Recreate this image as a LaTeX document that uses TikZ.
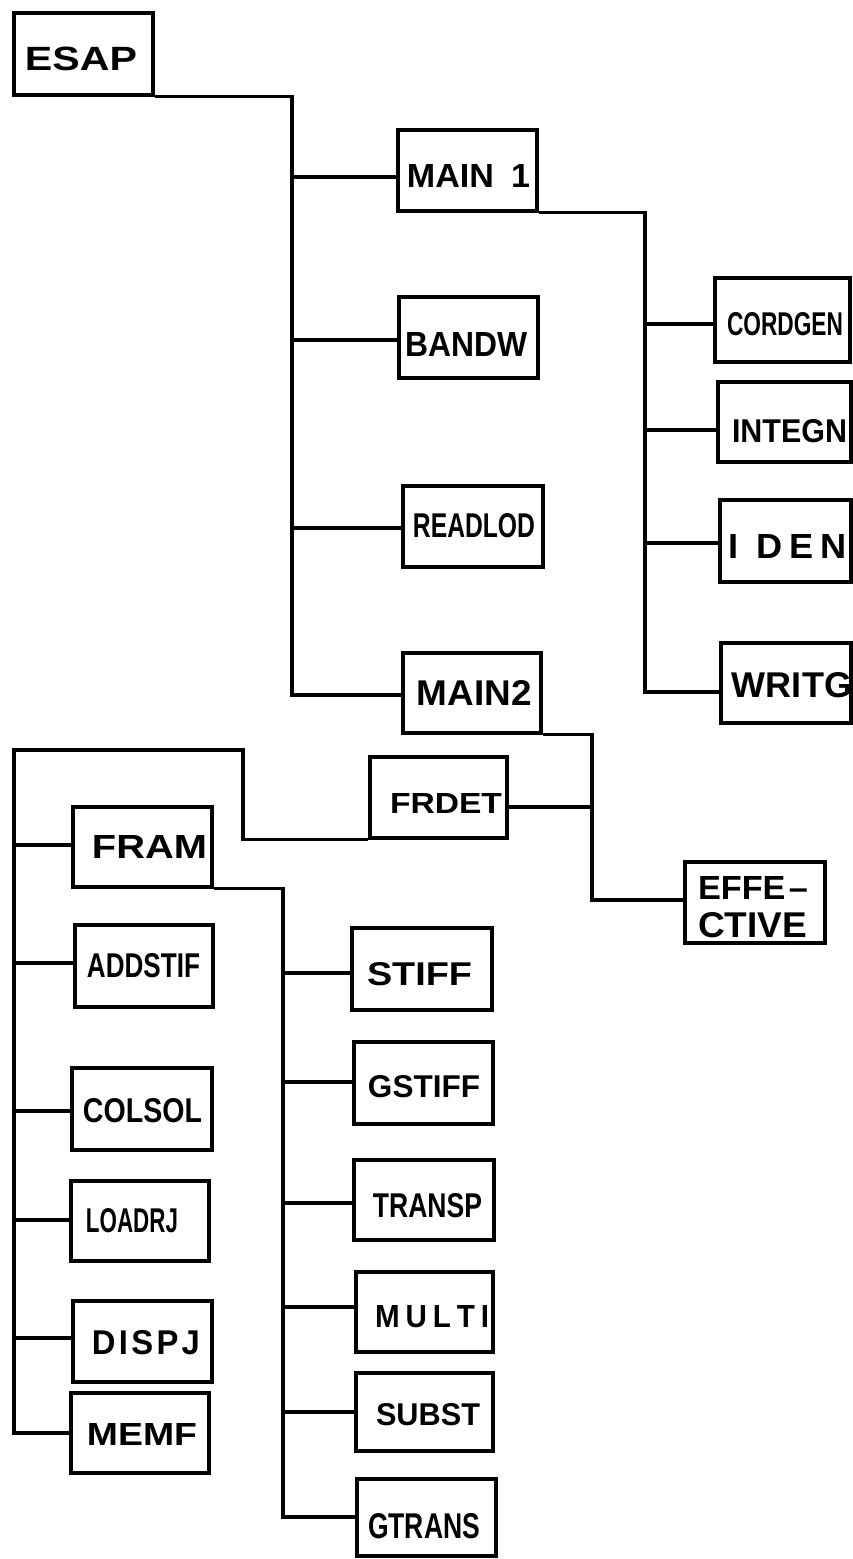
\documentclass[tikz,border=0pt]{standalone}
\usepackage{fontspec}
\setmainfont{Liberation Sans}
\usepackage{graphicx}
% label placed with offset (dx, dy up) from node centre
\newcommand\lbl[3]{\makebox[0pt]{\hspace*{#1}\hspace*{#1}\raisebox{\dimexpr#2-.5\height\relax}[0pt][0pt]{#3}}}
\newcommand\rs[3]{\resizebox{#1}{#2}{\bfseries #3}}
\tikzset{
  box/.style={draw, rectangle, line width=3.4pt, inner sep=0pt},
  wire/.style={line width=3.4pt}
}
\newcommand\bx[6]{\node[box, minimum width={(#3-#2)*1pt}, minimum height={(#5-#4)*1pt}] (#1) at ({(#2+#3)/2},{(#4+#5)/2}) {#6};}
\begin{document}
\begin{tikzpicture}[x=1pt,y=-1pt]
\useasboundingbox (0,0) rectangle (853,1559);
% boxes
\bx{ESAP}{14}{153}{13}{95}{\lbl{-2.5pt}{-4.8pt}{\rs{112pt}{23.5pt}{ESAP}}}
\bx{MAINa}{398}{537}{130}{211}{\lbl{1pt}{-5.5pt}{\rs{123pt}{23pt}{MAIN\kern5pt 1}}}
\bx{BANDW}{399}{538}{297}{378}{\lbl{-1.5pt}{-7pt}{\rs{122pt}{24pt}{BANDW}}}
\bx{READLOD}{403}{543}{486}{567}{\lbl{1pt}{1.5pt}{\rs{122pt}{24pt}{READLOD}}}
\bx{MAINb}{403}{541}{653}{733}{\lbl{2.5pt}{0.5pt}{\rs{115pt}{25pt}{MAIN2}}}
\bx{CORDGEN}{715}{850}{278}{362}{\lbl{2.5pt}{-4pt}{\rs{116pt}{23pt}{CORDGEN}}}
\bx{INTEGN}{718}{851}{382}{462}{\lbl{5pt}{-9pt}{\rs{115pt}{23pt}{INTEGN}}}
\bx{IDEN}{720}{851}{500}{582}{\lbl{2pt}{-5.5pt}{\rs{119pt}{24pt}{I\kern5pt D\kern2pt E\kern2pt N}}}
\bx{WRITG}{721}{851}{643}{723}{\lbl{6pt}{-1.5pt}{\rs{120pt}{25pt}{WRITG}}}
\bx{FRDET}{370}{507}{757}{838}{\lbl{7.5pt}{-5.5pt}{\rs{112pt}{20pt}{FRDET}}}
\bx{EFF}{685}{825}{862}{943}{\lbl{-2pt}{-4.5pt}{\vbox{\hbox{\rs{110pt}{23pt}{EFFE\kern1pt–}}\kern12pt\hbox{\rs{109pt}{25pt}{CTIVE}}}}}
\bx{FRAM}{73}{212}{807}{887}{\lbl{7pt}{0.5pt}{\rs{115pt}{23pt}{FRAM}}}
\bx{ADDSTIF}{75}{213}{925}{1007}{\lbl{-0.5pt}{1pt}{\rs{113pt}{24pt}{ADDSTIF}}}
\bx{COLSOL}{72}{212}{1068}{1150}{\lbl{0.5pt}{-1pt}{\rs{119pt}{24pt}{COLSOL}}}
\bx{LOADRJ}{71}{209}{1181}{1261}{\lbl{-8pt}{1pt}{\rs{92pt}{24pt}{LOADRJ}}}
\bx{DISPJ}{73}{212}{1301}{1382}{\lbl{3.5pt}{-0.5pt}{\rs{108pt}{24pt}{D\kern1pt I\kern1pt S\kern1pt P\kern1pt J}}}
\bx{MEMF}{71}{209}{1393}{1473}{\lbl{2pt}{-1pt}{\rs{110pt}{22pt}{MEMF}}}
\bx{STIFF}{352}{492}{928}{1010}{\lbl{-2.5pt}{-4.5pt}{\rs{105pt}{23pt}{STIFF}}}
\bx{GSTIFF}{354}{493}{1042}{1124}{\lbl{0.5pt}{-3pt}{\rs{112pt}{22pt}{GSTIFF}}}
\bx{TRANSP}{354}{494}{1160}{1240}{\lbl{3.5pt}{-5pt}{\rs{109pt}{24pt}{TRANSP}}}
\bx{MULTI}{356}{493}{1272}{1352}{\lbl{7.5pt}{-4pt}{\rs{114pt}{22pt}{M\kern2pt U\kern2pt L\kern2pt T\kern2pt I}}}
\bx{SUBST}{356}{493}{1373}{1451}{\lbl{3.5pt}{-2pt}{\rs{104pt}{22pt}{SUBST}}}
\bx{GTRANS}{357}{496}{1479}{1556}{\lbl{-2.5pt}{-8pt}{\rs{112pt}{25pt}{GTRANS}}}
% ESAP tree
\coordinate (tA) at (292,177);
\coordinate (tB) at (292,340);
\coordinate (tC) at (292,528);
\coordinate (tD) at (292,695);
\draw[wire] (ESAP.south east) -| (tD) -- (tD -| MAINb.west);
\draw[wire] (tA) -- (tA -| MAINa.west);
\draw[wire] (tB) -- (tB -| BANDW.west);
\draw[wire] (tC) -- (tC -| READLOD.west);
% MAIN1 tree
\coordinate (uA) at (645,324);
\coordinate (uB) at (645,430);
\coordinate (uC) at (645,543);
\coordinate (uD) at (645,692);
\draw[wire] (MAINa.south east) -| (uD) -- (uD -| WRITG.west);
\draw[wire] (uA) -- (uA -| CORDGEN.west);
\draw[wire] (uB) -- (uB -| INTEGN.west);
\draw[wire] (uC) -- (uC -| IDEN.west);
% MAIN2 tree
\coordinate (vA) at (592,807);
\coordinate (vB) at (592,900);
\draw[wire] (MAINb.south east) -| (vB) -- (vB -| EFF.west);
\draw[wire] (vA) -- (vA -| FRDET.east);
% FRDET tree
\coordinate (w1) at (243,750);
\coordinate (lA) at (14,845);
\coordinate (lB) at (14,963);
\coordinate (lC) at (14,1111);
\coordinate (lD) at (14,1220);
\coordinate (lE) at (14,1338);
\coordinate (lF) at (14,1433);
\draw[wire] (FRDET.south west) -| (w1) -| (lF) -- (lF -| MEMF.west);
\draw[wire] (lA) -- (lA -| FRAM.west);
\draw[wire] (lB) -- (lB -| ADDSTIF.west);
\draw[wire] (lC) -- (lC -| COLSOL.west);
\draw[wire] (lD) -- (lD -| LOADRJ.west);
\draw[wire] (lE) -- (lE -| DISPJ.west);
% FRAM tree
\coordinate (sA) at (283,973);
\coordinate (sB) at (283,1082);
\coordinate (sC) at (283,1203);
\coordinate (sD) at (283,1307);
\coordinate (sE) at (283,1412);
\coordinate (sF) at (283,1517);
\draw[wire] (FRAM.south east) -| (sF) -- (sF -| GTRANS.west);
\draw[wire] (sA) -- (sA -| STIFF.west);
\draw[wire] (sB) -- (sB -| GSTIFF.west);
\draw[wire] (sC) -- (sC -| TRANSP.west);
\draw[wire] (sD) -- (sD -| MULTI.west);
\draw[wire] (sE) -- (sE -| SUBST.west);
\end{tikzpicture}
\end{document}
